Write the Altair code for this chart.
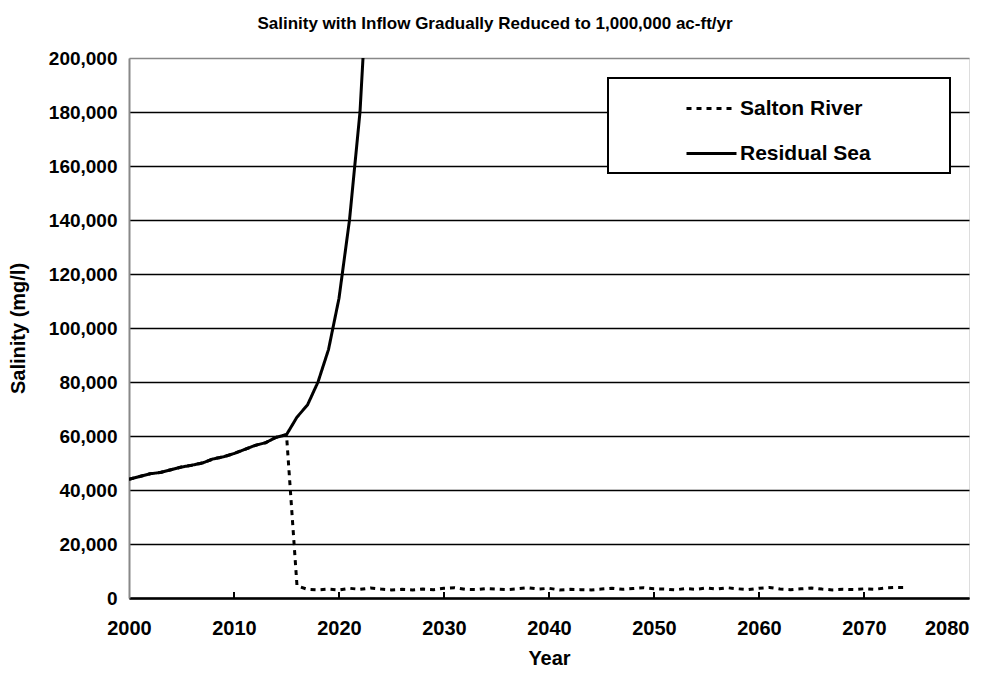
import altair as alt
import pandas as pd

years_sea = list(range(2000, 2024))
residual_sea = [44000, 45000, 46000, 46500, 47500, 48500, 49200, 50000, 51500, 52300,
                53500, 55000, 56500, 57500, 59500, 60500, 67000, 71500, 80000, 92000,
                111000, 140000, 180000, 250000]

years_river = list(range(2000, 2075))
salton_river = [44000, 45000, 46000, 46500, 47500, 48500, 49200, 50000, 51500, 52300,
                53500, 55000, 56500, 57500, 59500, 60500,
                4500, 3200, 3000, 3300, 3000, 3600, 3200, 3700, 3300, 3000,
                3200, 3000, 3300, 3100, 3600, 3800, 3200, 3100, 3500, 3300,
                3100, 3400, 3800, 3300, 3600, 3000, 3200, 3100, 3000, 3300,
                3600, 3200, 3500, 3800, 3400, 3300, 3000, 3500, 3200, 3700,
                3300, 3800, 3400, 3100, 3600, 3900, 3300, 3100, 3400, 3700,
                3300, 3000, 3200, 3100, 3400, 3200, 3700, 3900, 3900]

series_names = ["Salton River", "Residual Sea"]
x_ticks = list(range(2000, 2081, 10))
inner_ticks = list(range(2010, 2080, 10))
y_ticks = list(range(0, 200001, 20000))

FONT = "Liberation Sans"

river_df = pd.DataFrame({"Year": years_river, "Salinity": salton_river, "Series": "Salton River"})
sea_df = pd.DataFrame({"Year": years_sea, "Salinity": residual_sea, "Series": "Residual Sea"})

x_enc = alt.X("Year:Q",
              scale=alt.Scale(domain=[2000, 2080], nice=False, zero=False),
              axis=alt.Axis(values=x_ticks, format="d", title="Year", grid=False,
                            ticks=False, domainColor="black", domainWidth=2.5,
                            labelFlush=False,
                            labelAlign={"condition": {"test": "datum.value === 2080",
                                                      "value": "right"},
                                        "value": "center"},
                            labelFont=FONT, labelFontWeight="bold", labelFontSize=20,
                            labelColor="black", labelPadding=20,
                            titleFont=FONT, titleFontWeight="bold", titleFontSize=20,
                            titleColor="black", titlePadding=10))
y_enc = alt.Y("Salinity:Q",
              scale=alt.Scale(domain=[0, 200000], nice=False),
              axis=alt.Axis(values=y_ticks, format=",d", title="Salinity (mg/l)",
                            grid=True,
                            gridColor={"condition": {"test": "datum.value === 200000",
                                                     "value": "#888888"},
                                       "value": "black"},
                            gridWidth=1.5, ticks=False, labelFlush=False,
                            domainColor="#888888", domainWidth=2,
                            labelFont=FONT, labelFontWeight="bold", labelFontSize=19,
                            labelColor="black", labelPadding=12,
                            titleFont=FONT, titleFontWeight="bold", titleFontSize=20,
                            titleColor="black", titlePadding=20))

dash_enc = alt.StrokeDash("Series:N",
                          scale=alt.Scale(domain=series_names, range=[[5, 5], [1, 0]]),
                          legend=alt.Legend(orient="none", legendX=556, legendY=24,
                                            title=None, symbolType="stroke",
                                            symbolSize=2500, symbolStrokeWidth=3,
                                            symbolStrokeColor="black",
                                            labelFont=FONT, labelFontWeight="bold",
                                            labelFontSize=21, labelColor="black",
                                            labelOffset=2, rowPadding=8, padding=0))

river = alt.Chart(river_df).mark_line(color="black", strokeWidth=3, clip=True).encode(
    x=x_enc, y=y_enc, strokeDash=dash_enc)
sea = alt.Chart(sea_df).mark_line(color="black", strokeWidth=3, clip=True).encode(
    x=x_enc, y=y_enc, strokeDash=dash_enc)

ticks = alt.Chart(pd.DataFrame({"Year": inner_ticks})).mark_rule(
    color="black", strokeWidth=2).encode(
    x=alt.X("Year:Q"), y=alt.value(540), y2=alt.value(534))

box = alt.Chart(pd.DataFrame({"k": [0]})).mark_rect(
    fill="white", stroke="black", strokeWidth=2).encode(
    x=alt.value(479), x2=alt.value(821), y=alt.value(20), y2=alt.value(115))

chart = alt.layer(river, sea, ticks, box).properties(
    width=840, height=540,
    autosize=alt.AutoSizeParams(type="none"),
    padding={"left": 121, "top": 50, "right": 14, "bottom": 71},
    title=alt.TitleParams("Salinity with Inflow Gradually Reduced to 1,000,000 ac-ft/yr",
                          font=FONT, fontWeight="bold", fontSize=17, color="black",
                          anchor="middle", dx=-54, offset=16),
).configure_view(stroke="#888888", strokeWidth=2).configure(background="white")

chart.save("out.html", embed_options={"renderer": "svg", "actions": False})
